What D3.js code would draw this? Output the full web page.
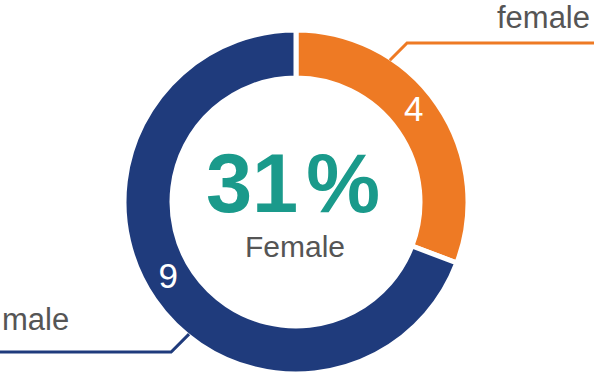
<!doctype html>
<html>
<head>
    <meta charset="utf-8">
    <title>Gender donut</title>
    <script type="text/javascript" src="https://cdn.jsdelivr.net/npm/d3@7"></script>
    <style type="text/css">
        html,
        body {
            margin: 0;
            padding: 0;
            background: #fff;
        }

        svg {
            display: block;
        }
    </style>
</head>
<body>
    <div id="chart"></div>
    <script type="text/javascript">
        // data
        var categories = ["female", "male"]
        var counts = [4, 9]
        var colors = ["#ee7a24", "#1f3b7c"]
        var centerLabel = "Female"

        var width = 594,
            height = 380
        var cx = 296,
            cy = 202
        var outerR = 172,
            innerR = 124
        var font = "'Liberation Sans', Arial, sans-serif"

        var svg = d3.select("#chart")
            .append("svg")
            .attr("width", width)
            .attr("height", height)

        var g = svg.append("g")
            .attr("transform", "translate(" + cx + "," + cy + ")")

        var pie = d3.pie().sort(null).value(function (d) { return d })
        var arcs = pie(counts)

        var arc = d3.arc()
            .innerRadius(innerR)
            .outerRadius(outerR)

        // slices, white stroke makes the small gaps
        g.selectAll("path.slice")
            .data(arcs)
            .enter()
            .append("path")
            .attr("class", "slice")
            .attr("d", arc)
            .attr("fill", function (d, i) { return colors[i] })
            .attr("stroke", "#fff")
            .attr("stroke-width", 5)

        // numbers inside the ring (centroid, nudged a bit)
        var nudge = [[-4, -10], [-6, -11]]
        g.selectAll("text.count")
            .data(arcs)
            .enter()
            .append("text")
            .attr("class", "count")
            .attr("transform", function (d, i) {
                var c = arc.centroid(d)
                return "translate(" + (c[0] + nudge[i][0]) + "," + (c[1] + nudge[i][1]) + ")"
            })
            .attr("text-anchor", "middle")
            .attr("dy", "0.36em")
            .attr("fill", "#fff")
            .style("font-family", font)
            .style("font-size", "35px")
            .text(function (d) { return d.value })

        // leader lines: start on the outer edge, bend, run to the page edge
        var leaderAngle = [33.5, 219] // degrees clockwise from top
        var bendY = [43, 352]
        var endX = [width, 0]
        var lineData = leaderAngle.map(function (a, i) {
            var rad = a * Math.PI / 180
            var x0 = cx + (outerR - 2) * Math.sin(rad)
            var y0 = cy - (outerR - 2) * Math.cos(rad)
            var dy = bendY[i] - y0
            var x1 = x0 + (i === 0 ? Math.abs(dy) : -Math.abs(dy))
            return [[x0, y0], [x1, bendY[i]], [endX[i], bendY[i]]]
        })

        svg.selectAll("path.leader")
            .data(lineData)
            .enter()
            .append("path")
            .attr("class", "leader")
            .attr("d", d3.line())
            .attr("fill", "none")
            .attr("stroke", function (d, i) { return colors[i] })
            .attr("stroke-width", 3)

        // category labels above the lines
        var labelPos = [[590, 28, "end"], [2, 330, "start"]]
        svg.selectAll("text.cat")
            .data(categories)
            .enter()
            .append("text")
            .attr("class", "cat")
            .attr("x", function (d, i) { return labelPos[i][0] })
            .attr("y", function (d, i) { return labelPos[i][1] })
            .attr("text-anchor", function (d, i) { return labelPos[i][2] })
            .attr("fill", "#555")
            .style("font-family", font)
            .style("font-size", "31px")
            .text(function (d) { return d })

        // centre: percentage female
        var total = d3.sum(counts)
        var pct = Math.round(counts[0] / total * 100)

        var big = g.append("text")
            .attr("x", -3)
            .attr("y", 10)
            .attr("text-anchor", "middle")
            .attr("fill", "#1a9a8b")
            .style("font-family", font)
            .style("font-weight", "bold")
            .style("font-size", "83px")
        big.append("tspan").text(pct)
        big.append("tspan").attr("dx", 8).text("%")

        g.append("text")
            .attr("x", -1)
            .attr("y", 55)
            .attr("text-anchor", "middle")
            .attr("fill", "#555")
            .style("font-family", font)
            .style("font-size", "30px")
            .text(centerLabel)
    </script>
</body>
</html>
